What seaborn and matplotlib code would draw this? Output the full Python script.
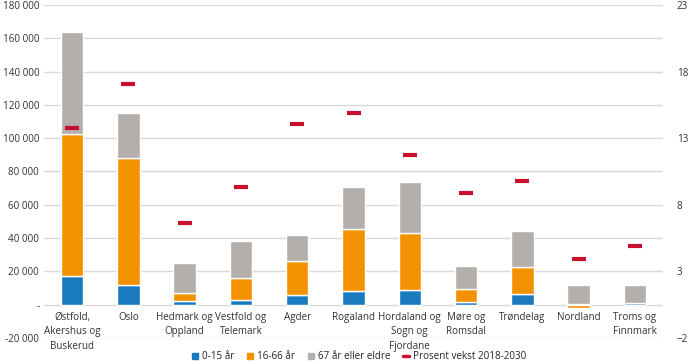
import pandas as pd
import numpy as np
import matplotlib.pyplot as plt
from matplotlib.lines import Line2D
import seaborn as sns

regions = ["Østfold,\nAkershus og\nBuskerud", "Oslo", "Hedmark og\nOppland", "Vestfold og\nTelemark",
           "Agder", "Rogaland", "Hordaland og\nSogn og\nFjordane", "Møre og\nRomsdal", "Trøndelag",
           "Nordland", "Troms og\nFinnmark"]
age_0_15 = [17500, 12000, 2200, 3000, 6000, 8400, 9000, 1800, 6600, 600, 800]
age_16_66 = [85000, 76000, 5000, 13200, 20400, 37200, 34200, 7800, 16200, -2000, 0]
age_67 = [61500, 27200, 18000, 22200, 15600, 25200, 30600, 13800, 21600, 11400, 11200]
growth = [13.8, 17.1, 6.6, 9.3, 14.1, 14.9, 11.7, 8.9, 9.8, 3.9, 4.9]
series_names = ["0-15 år", "16-66 år", "67 år eller eldre", "Prosent vekst 2018-2030"]

df = pd.DataFrame({"region": regions, "young": age_0_15, "adult": age_16_66,
                   "old": age_67, "growth": growth})
df["adult_bottom"] = np.where(df["adult"] >= 0, df["young"], 0)
df["old_bottom"] = df["young"] + df["adult"].clip(lower=0)

blue = "#1a7ac0"
orange = "#f39200"
grey = "#b4afab"
red = "#c8102e"

sns.set_style("white")
plt.rcParams["font.family"] = ["Open Sans", "DejaVu Sans"]
fs = 7.1

fig = plt.figure(figsize=(7, 3.64), dpi=100)
ax = fig.add_axes([0.063, 0.0714, 0.884, 0.915])

sns.barplot(data=df, x="region", y="young", color=blue, width=0.4, saturation=1, ax=ax)
sns.barplot(data=df, x="region", y="adult", color=orange, width=0.4, saturation=1, ax=ax,
            bottom=df["adult_bottom"].to_numpy())
sns.barplot(data=df, x="region", y="old", color=grey, width=0.4, saturation=1, ax=ax,
            bottom=df["old_bottom"].to_numpy())

ax.set_ylim(-20000, 180000)
ax.set_yticks(range(-20000, 180001, 20000))
ax.set_yticklabels(["-" if v == 0 else f"{v:,}".replace(",", " ") for v in range(-20000, 180001, 20000)])
ax.yaxis.grid(True, color="#d9d9d9", linewidth=1)
ax.set_axisbelow(True)
ax.set_xlabel("")
ax.set_ylabel("")
ax.tick_params(axis="both", length=0, colors="#333333", labelsize=fs)
ax.tick_params(axis="x", pad=5)
ax.spines["bottom"].set_position(("data", 0))
for s in ax.spines.values():
    s.set_visible(False)

ax2 = ax.twinx()
ax2.scatter(range(len(regions)), df["growth"], marker="_", s=110, linewidths=3, color=red, zorder=5)
ax2.set_ylim(-2, 23)
ax2.set_yticks([-2, 3, 8, 13, 18, 23])
ax2.tick_params(axis="y", length=0, colors="#333333", labelsize=fs, pad=10)
for s in ax2.spines.values():
    s.set_visible(False)
ax2.set_xlim(-0.5, len(regions) - 0.5)

ax.set_xticks(range(len(regions)), regions, linespacing=1.45, fontsize=fs, color="#333333")

handles = [Line2D([], [], marker="s", linestyle="", color=c, markersize=4.5) for c in (blue, orange, grey)]
handles.append(Line2D([], [], color=red, linewidth=2.5))
fig.legend(handles, series_names, loc="lower center", bbox_to_anchor=(0.513, -0.02), ncol=4, frameon=False,
           fontsize=fs, handlelength=0.6, handletextpad=0.4, columnspacing=1.3)

fig.savefig("out.png", dpi=100)
